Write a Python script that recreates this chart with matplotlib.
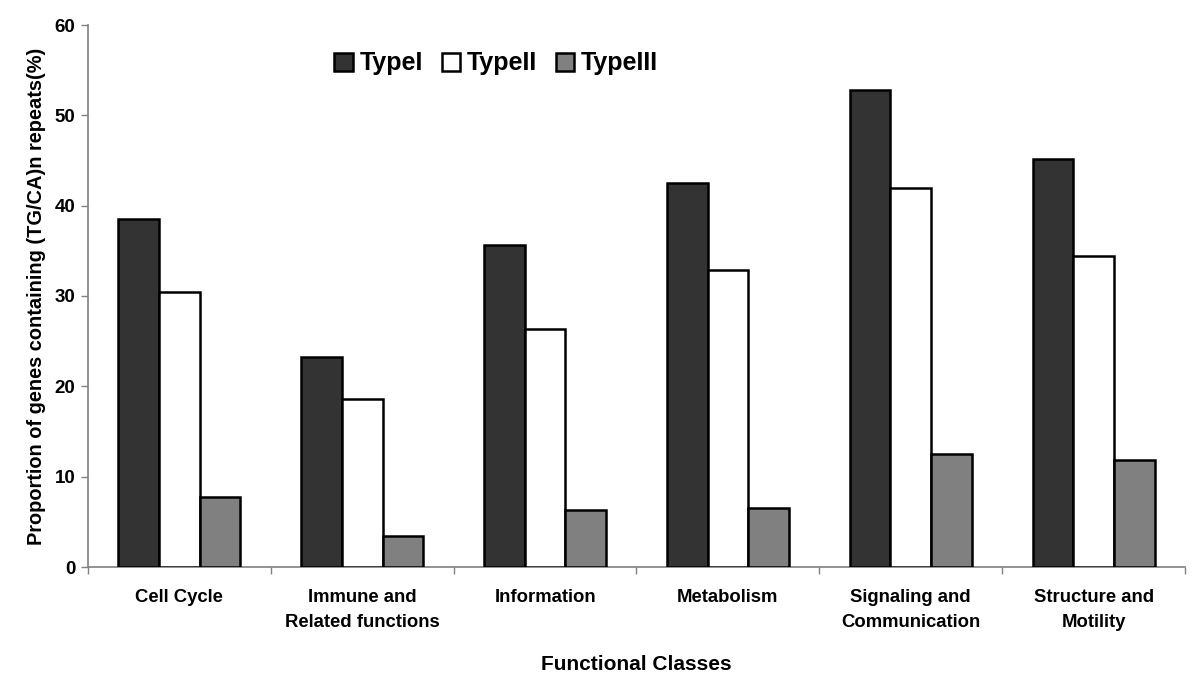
import numpy as np
import matplotlib
matplotlib.use("Agg")
import matplotlib.pyplot as plt

categories = ["Cell Cycle", "Immune and\nRelated functions", "Information",
              "Metabolism", "Signaling and\nCommunication", "Structure and\nMotility"]
series_names = ["TypeI", "TypeII", "TypeIII"]
type1 = [38.5, 23.2, 35.7, 42.5, 52.8, 45.2]
type2 = [30.4, 18.6, 26.3, 32.9, 42.0, 34.4]
type3 = [7.7, 3.4, 6.3, 6.5, 12.5, 11.8]
yticks = [0, 10, 20, 30, 40, 50, 60]

plt.rcParams['font.family'] = ['Liberation Sans', 'DejaVu Sans']
plt.rcParams['font.weight'] = 'bold'

fig = plt.figure(figsize=(12, 6.86), dpi=100)
ax = fig.add_axes([88/1200, 1-567/686, (1185-88)/1200, (567-25)/686])

x = np.arange(len(categories))
w = 1/4.5
colors = ["#333333", "#ffffff", "#808080"]
for i, (vals, name, c) in enumerate(zip([type1, type2, type3], series_names, colors)):
    ax.bar(x + (i-1)*w, vals, width=w, color=c, edgecolor="black", linewidth=1.8,
           label=name, zorder=3)

ax.set_xlim(-0.5, len(categories)-0.5)
ax.set_ylim(0, 60)
ax.set_yticks(yticks)
ax.set_yticklabels([str(t) for t in yticks], fontsize=13.5, fontweight='bold')
ax.set_xticks(x)
ax.set_xticklabels(categories, fontsize=13.3, fontweight='bold', linespacing=1.6)
ax.set_xticks(np.arange(-0.5, len(categories), 1.0), minor=True)
ax.tick_params(axis='x', which='major', length=0, pad=16)
ax.tick_params(axis='x', which='minor', length=5, color='#808080', width=1)
ax.tick_params(axis='y', which='major', length=5, color='#808080', width=1, pad=4)

for s in ['top', 'right']:
    ax.spines[s].set_visible(False)
for s in ['left', 'bottom']:
    ax.spines[s].set_color('#808080')
    ax.spines[s].set_linewidth(1.2)

ax.set_ylabel("Proportion of genes containing (TG/CA)n repeats(%)", fontsize=14.4,
              fontweight='bold', labelpad=6)
ax.set_xlabel("Functional Classes", fontsize=15, fontweight='bold', labelpad=17)

leg = ax.legend(loc='center', bbox_to_anchor=(0.372, 0.929), ncol=3, frameon=False,
                prop={'size': 18, 'weight': 'bold'}, handlelength=0.75, handleheight=0.75,
                handletextpad=0.25, columnspacing=0.75)

fig.savefig("out.png", dpi=100)
